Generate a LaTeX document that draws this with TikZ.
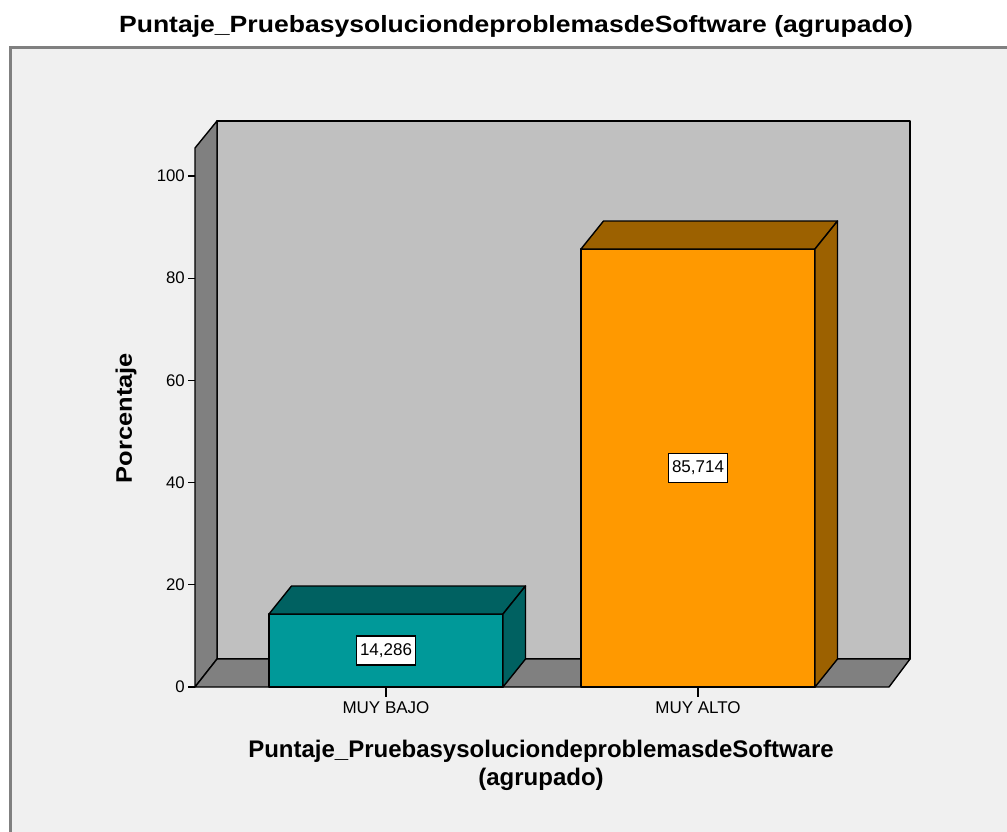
\documentclass[tikz,border=0pt]{standalone}
\usepackage{fontspec}
\setmainfont{Liberation Sans}
\newfontfamily\widefont[FakeStretch=1.13]{Liberation Sans}
\usetikzlibrary{positioning}
\definecolor{panelbg}{HTML}{F0F0F0}
\definecolor{backwall}{HTML}{C0C0C0}
\definecolor{sidewall}{HTML}{808080}
\definecolor{tealfront}{HTML}{009999}
\definecolor{tealdark}{HTML}{006161}
\definecolor{orangefront}{HTML}{FF9900}
\definecolor{orangedark}{HTML}{9C6100}
\tikzset{
    %Define style for the walls and bar faces
    face/.style={
           draw=black,
           line width=1.4pt,
           line join=round},
    % Define style for value boxes
    valbox/.style={
           rectangle,
           fill=white,
           draw=black, line width=1.3pt,
           minimum width=59pt,
           minimum height=29pt,
           inner sep=1pt,
           font=\fontsize{17}{20}\selectfont},
    % Define style for tick labels
    ticklab/.style={
           anchor=east,
           inner sep=0pt,
           font=\fontsize{16.8}{20}\selectfont},
    catlab/.style={
           anchor=north,
           inner sep=0pt,
           font=\fontsize{17}{20}\selectfont},
    tick/.style={
           draw=black,
           line width=1.2pt},
}
\newcommand{\vy}[1]{687-5.11*#1}
\begin{document}
\begin{tikzpicture}[x=1pt, y=-1pt]
 \useasboundingbox (0,0) rectangle (1007,832);
 %background and panel
 \fill[white] (0,0) rectangle (1007,832);
 \draw[fill=panelbg, draw=sidewall, line width=2.5pt] (10.5,47.5) rectangle (1015,845);
 %title
 \node[anchor=base, inner sep=0pt, font=\widefont\bfseries\fontsize{23.5}{28}\selectfont] (title) at (516,33) {Puntaje\_PruebasysoluciondeproblemasdeSoftware (agrupado)};
 %walls and floor
 \draw[face, fill=backwall] (217,121) rectangle (910,659);
 \draw[face, fill=sidewall] (195,148) -- (217,121) -- (217,659) -- (195,687) -- cycle;
 \draw[face, fill=sidewall] (195,687) -- (217,659) -- (910,659) -- (889,687) -- cycle;
 %bars
 \foreach \xl/\val/\front/\dark/\lab/\name in {269/14.286/tealfront/tealdark/{14,286}/bajo, 581/85.714/orangefront/orangedark/{85,714}/alto}{
   \draw[face, fill=\front] (\xl,{\vy{\val}}) rectangle (\xl+234,687);
   \draw[face, fill=\dark] (\xl,{\vy{\val}}) -- (\xl+22.5,{\vy{\val}-28}) -- (\xl+256.5,{\vy{\val}-28}) -- (\xl+234,{\vy{\val}}) -- cycle;
   \draw[face, fill=\dark] (\xl+234,{\vy{\val}}) -- (\xl+256.5,{\vy{\val}-28}) -- (\xl+256.5,659) -- (\xl+234,687) -- cycle;
   \node[valbox] (v\name) at (\xl+117,{\vy{\val/2}}) {\lab};
   \draw[tick] (\xl+117,687) -- (\xl+117,697);
 }
 %axis ticks
 \foreach \t in {0,20,40,60,80,100}{
   \draw[tick] (188,{\vy{\t}}) -- (195,{\vy{\t}});
   \node[ticklab] (t\t) at (185,{\vy{\t}}) {\t};
 }
 %category labels
 \node[catlab] (cbajo) at (386,701) {MUY BAJO};
 \node[catlab] (calto) at (698,701) {MUY ALTO};
 %axis titles
 \node[rotate=90, inner sep=0pt, font=\widefont\bfseries\fontsize{22.5}{26}\selectfont] (ytitle) at (126,418) {Porcentaje};
 \node[anchor=north, align=center, inner sep=0pt, font=\bfseries\fontsize{24}{28}\selectfont] (xtitle) at (541,740) {Puntaje\_PruebasysoluciondeproblemasdeSoftware\\(agrupado)};
\end{tikzpicture}
\end{document}
